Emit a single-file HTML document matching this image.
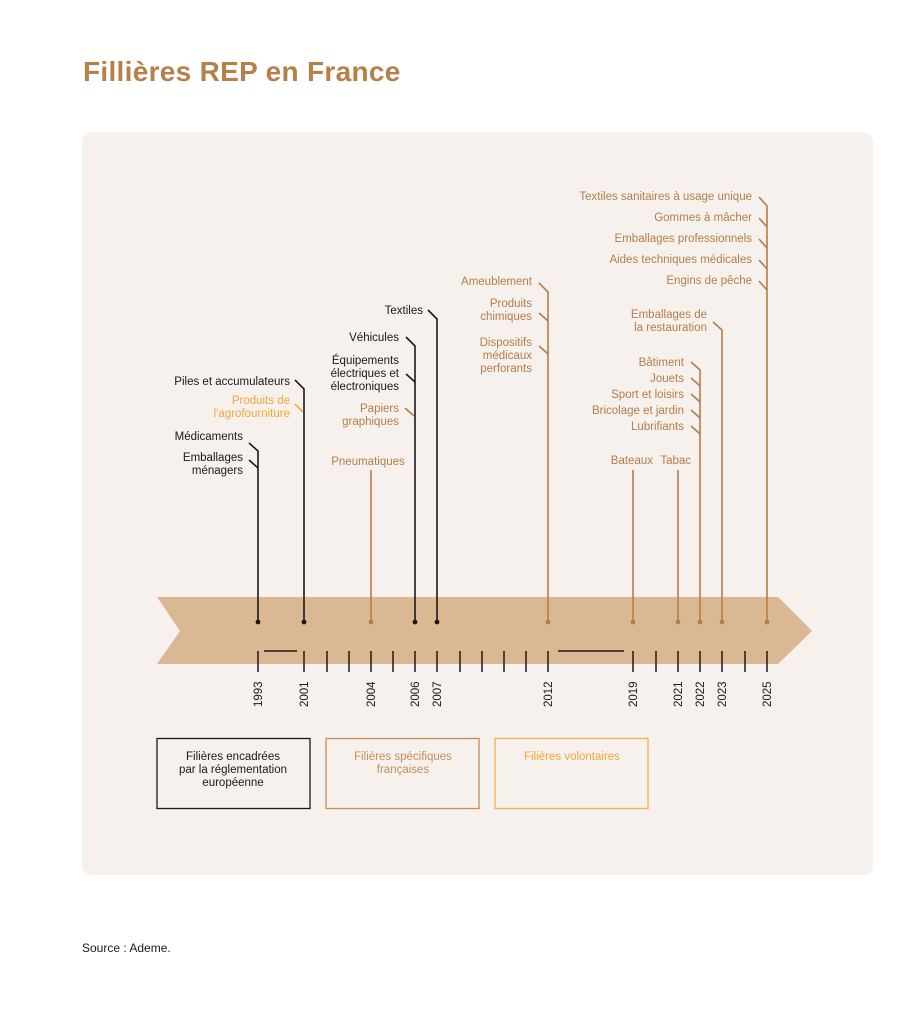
<!DOCTYPE html>
<html><head><meta charset="utf-8"><style>
html,body{margin:0;padding:0;background:#fff;width:924px;height:1024px;overflow:hidden}
svg{display:block}
text{font-family:"Liberation Sans",sans-serif}
</style></head><body>
<svg width="924" height="1024" viewBox="0 0 924 1024" xmlns="http://www.w3.org/2000/svg">
<text x="83" y="81" font-size="28" font-weight="bold" fill="#b5804a" letter-spacing="0.3">Fillières REP en France</text>
<rect x="82" y="132" width="791" height="743" rx="10" fill="#f6f1ec"/>
<polygon points="157,597 778,597 812,631 778,664 157,664 180,631" fill="#dbb894"/>

<g font-size="11.5" text-anchor="end">
<g fill="#1a1a1a">
<text x="243" y="440">Médicaments</text>
<text x="243" y="461">Emballages</text><text x="243" y="474">ménagers</text>
<text x="290" y="385">Piles et accumulateurs</text>
<text x="399" y="341">Véhicules</text>
<text x="399" y="364">Équipements</text><text x="399" y="377">électriques et</text><text x="399" y="390">électroniques</text>
<text x="423" y="314">Textiles</text>
</g>
<g fill="#f5a535">
<text x="290" y="404">Produits de</text><text x="290" y="417">l'agrofourniture</text>
</g>
<g fill="#b57d48">
<text x="399" y="412">Papiers</text><text x="399" y="425">graphiques</text>
<text x="368" y="465" text-anchor="middle">Pneumatiques</text>
<text x="532" y="285">Ameublement</text>
<text x="532" y="307">Produits</text><text x="532" y="320">chimiques</text>
<text x="532" y="346">Dispositifs</text><text x="532" y="359">médicaux</text><text x="532" y="372">perforants</text>
<text x="653" y="464">Bateaux</text>
<text x="691" y="464">Tabac</text>
<text x="684" y="366">Bâtiment</text>
<text x="684" y="382">Jouets</text>
<text x="684" y="398">Sport et loisirs</text>
<text x="684" y="414">Bricolage et jardin</text>
<text x="684" y="430">Lubrifiants</text>
<text x="707" y="318">Emballages de</text><text x="707" y="331">la restauration</text>
<text x="752" y="200">Textiles sanitaires à usage unique</text>
<text x="752" y="221">Gommes à mâcher</text>
<text x="752" y="242">Emballages professionnels</text>
<text x="752" y="263">Aides techniques médicales</text>
<text x="752" y="284">Engins de pêche</text>
</g>
</g>

<g stroke-width="1.6" fill="none">
<g stroke="#1a1a1a">
<polyline points="249,443 258,451 258,622"/>
<line x1="249" y1="460" x2="258" y2="468"/>
<polyline points="295,380 304,389 304,622"/>
<polyline points="406,337 415,346 415,622"/>
<line x1="406" y1="374" x2="415" y2="382"/>
<polyline points="428,310 437,319 437,622"/>
</g>
<line x1="295" y1="404" x2="303" y2="412" stroke="#f5a535"/>
<g stroke="#b57d48">
<line x1="405" y1="408" x2="414" y2="416"/>
<line x1="371" y1="470" x2="371" y2="622"/>
<polyline points="539,283 548,292 548,622"/>
<line x1="539" y1="313" x2="548" y2="321"/>
<line x1="539" y1="346" x2="548" y2="354"/>
<line x1="633" y1="470" x2="633" y2="622"/>
<line x1="678" y1="470" x2="678" y2="622"/>
<polyline points="691,362 700,370 700,622"/>
<line x1="691" y1="378" x2="700" y2="386"/>
<line x1="691" y1="394" x2="700" y2="402"/>
<line x1="691" y1="410" x2="700" y2="418"/>
<line x1="691" y1="426" x2="700" y2="434"/>
<polyline points="713,322 722,330 722,622"/>
<polyline points="759,197 767,206 767,622"/>
<line x1="759" y1="218" x2="767" y2="227"/>
<line x1="759" y1="239" x2="767" y2="248"/>
<line x1="759" y1="260" x2="767" y2="269"/>
<line x1="759" y1="281" x2="767" y2="290"/>
</g>
</g>
<g fill="#1a1a1a"><circle cx="258" cy="622" r="2.4"/><circle cx="304" cy="622" r="2.4"/><circle cx="415" cy="622" r="2.4"/><circle cx="437" cy="622" r="2.4"/></g>
<g fill="#b57d48"><circle cx="371" cy="622" r="2.4"/><circle cx="548" cy="622" r="2.4"/><circle cx="633" cy="622" r="2.4"/><circle cx="678" cy="622" r="2.4"/><circle cx="700" cy="622" r="2.4"/><circle cx="722" cy="622" r="2.4"/><circle cx="767" cy="622" r="2.4"/></g>

<g stroke="#1a1a1a" stroke-width="1.5">
<line x1="258" y1="651" x2="258" y2="672"/><line x1="304" y1="651" x2="304" y2="672"/>
<line x1="327" y1="651" x2="327" y2="672"/><line x1="349" y1="651" x2="349" y2="672"/>
<line x1="371" y1="651" x2="371" y2="672"/><line x1="393" y1="651" x2="393" y2="672"/>
<line x1="415" y1="651" x2="415" y2="672"/><line x1="437" y1="651" x2="437" y2="672"/>
<line x1="460" y1="651" x2="460" y2="672"/><line x1="482" y1="651" x2="482" y2="672"/>
<line x1="504" y1="651" x2="504" y2="672"/><line x1="526" y1="651" x2="526" y2="672"/>
<line x1="548" y1="651" x2="548" y2="672"/><line x1="633" y1="651" x2="633" y2="672"/>
<line x1="656" y1="651" x2="656" y2="672"/><line x1="678" y1="651" x2="678" y2="672"/>
<line x1="700" y1="651" x2="700" y2="672"/><line x1="722" y1="651" x2="722" y2="672"/>
<line x1="745" y1="651" x2="745" y2="672"/><line x1="767" y1="651" x2="767" y2="672"/>
<line x1="264" y1="651" x2="297" y2="651"/><line x1="558" y1="651" x2="624" y2="651"/>
</g>
<g font-size="11.5" fill="#1a1a1a">
<text transform="translate(262,707) rotate(-90)">1993</text>
<text transform="translate(308,707) rotate(-90)">2001</text>
<text transform="translate(375,707) rotate(-90)">2004</text>
<text transform="translate(419,707) rotate(-90)">2006</text>
<text transform="translate(441,707) rotate(-90)">2007</text>
<text transform="translate(552,707) rotate(-90)">2012</text>
<text transform="translate(637,707) rotate(-90)">2019</text>
<text transform="translate(682,707) rotate(-90)">2021</text>
<text transform="translate(704,707) rotate(-90)">2022</text>
<text transform="translate(726,707) rotate(-90)">2023</text>
<text transform="translate(771,707) rotate(-90)">2025</text>
</g>

<rect x="157" y="738.5" width="153" height="70" fill="none" stroke="#1a1a1a" stroke-width="1.3"/>
<rect x="326" y="738.5" width="153" height="70" fill="none" stroke="#c58e5a" stroke-width="1.3"/>
<rect x="495" y="738.5" width="153" height="70" fill="none" stroke="#f5b04a" stroke-width="1.3"/>
<g font-size="11.5" text-anchor="middle">
<text x="233" y="760" fill="#1a1a1a">Filières encadrées</text>
<text x="233" y="773" fill="#1a1a1a">par la réglementation</text>
<text x="233" y="786" fill="#1a1a1a">européenne</text>
<text x="403" y="760" fill="#c58e5a">Filières spécifiques</text>
<text x="403" y="773" fill="#c58e5a">françaises</text>
<text x="572" y="760" fill="#f5a535">Filières volontaires</text>
</g>
<text x="82" y="952" font-size="12" fill="#1a1a1a">Source : Ademe.</text>
</svg>
</body></html>
